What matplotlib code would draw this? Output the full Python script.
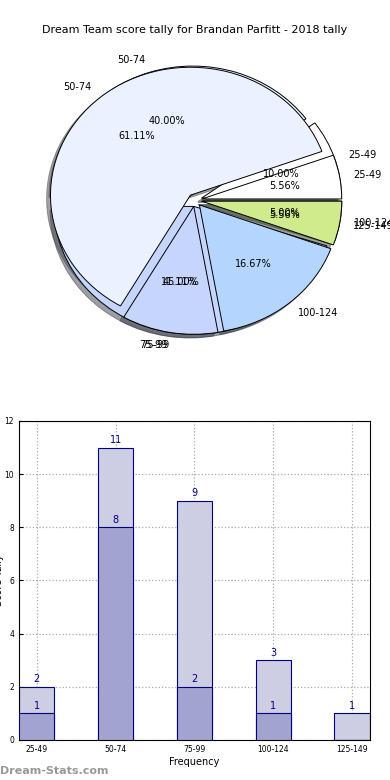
import matplotlib
matplotlib.use("Agg")
import matplotlib.pyplot as plt
import numpy as np

categories = ["25-49", "50-74", "75-99", "100-124", "125-149"]
pie_outer_labels = ["25-49", "50-74", "75-99", "100-124"]
pie_outer = [2, 8, 9, 1]         # 10%, 40%, 45%, 5%
pie_inner = [1, 11, 2, 3, 1]     # 5.56%, 61.11%, 11.11%, 16.67%, 5.56%
bar_light = [2, 11, 9, 3, 1]
bar_dark = [1, 8, 2, 1, 0]
pie_colors = ["#ffffff", "#ebf2ff", "#c5d5fe", "#b4d5fe", "#cfeb8c"]

fig = plt.figure(figsize=(3.9, 7.8), dpi=100)
fig.text(0.5, 0.961, "Dream Team score tally for Brandan Parfitt - 2018 tally",
         ha="center", va="center", fontsize=8)

axp = fig.add_axes([0.0513, 0.5385, 0.897, 0.41])
for vals, labs in ((pie_outer, pie_outer_labels), (pie_inner, categories)):
    axp.pie(vals, labels=labs, colors=pie_colors[:len(vals)],
            explode=[0.05] * len(vals), shadow=True, startangle=0,
            autopct="%.2f%%", pctdistance=0.6, labeldistance=1.1,
            wedgeprops=dict(edgecolor="black", linewidth=0.7),
            textprops=dict(fontsize=7))
axp.set_aspect("auto")
axp.set_xlim(-1.25, 1.25)
axp.set_ylim(-1.25, 1.25)

axb = fig.add_axes([0.0487, 0.0513, 0.9, 0.409])
x = np.arange(len(categories))
w = 0.45
axb.bar(x, bar_light, width=w, color="#cdcde4", edgecolor="#000080", linewidth=0.8, zorder=2)
axb.bar(x, bar_dark, width=w, color="#a3a3d0", edgecolor="#000080", linewidth=0.8, zorder=3)
for xi, v in zip(x, bar_light):
    if v > 0:
        axb.text(xi, v + 0.1, str(v), ha="center", va="bottom", color="#000080", fontsize=7, zorder=4)
for xi, v in zip(x, bar_dark):
    if v > 0:
        axb.text(xi, v + 0.1, str(v), ha="center", va="bottom", color="#000080", fontsize=7, zorder=4)
axb.set_xlim(-w / 2, len(categories) - 1 + w / 2)
axb.set_ylim(0, 12)
axb.set_xticks(x)
axb.set_xticklabels(categories, fontsize=5.5)
axb.set_yticks(range(0, 13, 2))
axb.tick_params(axis="y", labelsize=5.5)
axb.tick_params(direction="in", length=3)
axb.grid(True, linestyle=":", color="#aaaaaa", linewidth=0.9, zorder=0)
axb.set_axisbelow(True)
axb.set_xlabel("Frequency", fontsize=7, labelpad=2)
fig.text(-0.002, 0.256, "Score Tally", rotation=90, ha="center", va="center", fontsize=7)

fig.text(0.0, 0.012, "Dream-Stats.com", color="#999999", fontsize=8,
         fontweight="bold", ha="left", va="center")

fig.savefig("out.png", dpi=100)
